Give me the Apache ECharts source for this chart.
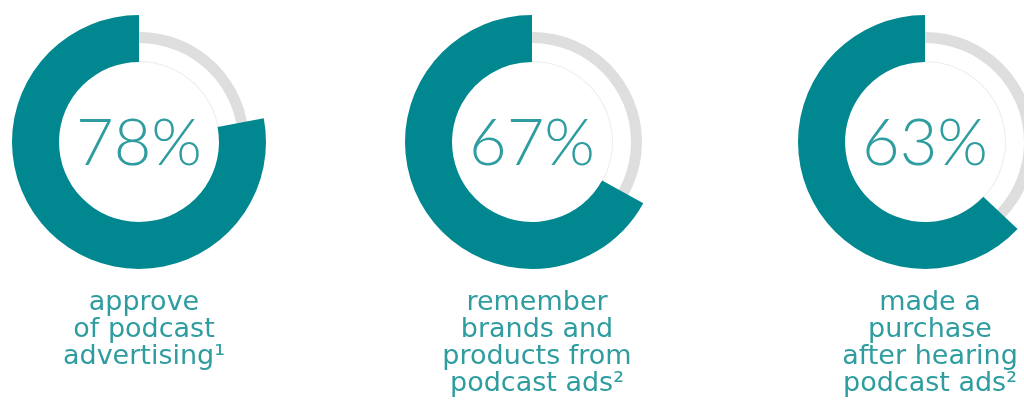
<!DOCTYPE html>
<html>
<head>
<meta charset="utf-8">
<title>Podcast ads</title>
<script src="https://cdn.jsdelivr.net/npm/echarts@6/dist/echarts.min.js"></script>
<style>
  html, body { margin: 0; padding: 0; background: #fff; }
  #chart { width: 1024px; height: 400px; }
</style>
</head>
<body>
<div id="chart"></div>
<script>
const percents = [78, 67, 63]
const captions = [
  'approve\nof podcast\nadvertising¹',
  'remember\nbrands and\nproducts from\npodcast ads²',
  'made a\npurchase\nafter hearing\npodcast ads²'
]
const centersX = [139, 532, 925]

const teal = '#00878f'
const textTeal = '#2f9da0'
const centerY = 142

function draw() {
  const chart = echarts.init(document.getElementById('chart'))

  let series = []
  let titles = []
  percents.forEach(function (p, i) {
    let c = [centersX[i], centerY]
    // thin grey track
    series.push({
      type: 'pie',
      silent: true,
      center: c,
      radius: [99, 110],
      startAngle: 90,
      clockwise: false,
      label: { show: false },
      labelLine: { show: false },
      itemStyle: { borderWidth: 0 },
      data: [{ value: 100, itemStyle: { color: '#dedede' } }]
    })
    // faint inner outline
    series.push({
      type: 'pie',
      silent: true,
      center: c,
      radius: [80, 81],
      label: { show: false },
      labelLine: { show: false },
      data: [{ value: 100, itemStyle: { color: '#ececec' } }]
    })
    // teal value arc
    series.push({
      type: 'pie',
      silent: true,
      center: c,
      radius: [80, 127],
      startAngle: 90,
      clockwise: false,
      label: { show: false },
      labelLine: { show: false },
      itemStyle: { borderWidth: 0 },
      data: [
        { value: p, itemStyle: { color: teal } },
        { value: 100 - p, itemStyle: { color: 'transparent' } }
      ]
    })
    titles.push({
      text: p + '%',
      left: centersX[i] - 5,
      top: centerY - 35,
      textAlign: 'center',
      textStyle: {
        color: textTeal,
        fontFamily: 'Lato',
        fontWeight: 300,
        fontSize: 65
      }
    })
    titles.push({
      text: captions[i],
      left: centersX[i],
      top: 284,
      textAlign: 'center',
      textStyle: {
        color: textTeal,
        fontFamily: 'DejaVu Sans',
        fontWeight: 'normal',
        fontSize: 27,
        lineHeight: 27
      }
    })
  })

  chart.setOption({
    backgroundColor: '#fff',
    animation: false,
    title: titles,
    series: series
  })
}

Promise.all([
  document.fonts.load('300 65px Lato'),
  document.fonts.load('27px "DejaVu Sans"')
]).then(draw, draw)
</script>
</body>
</html>
